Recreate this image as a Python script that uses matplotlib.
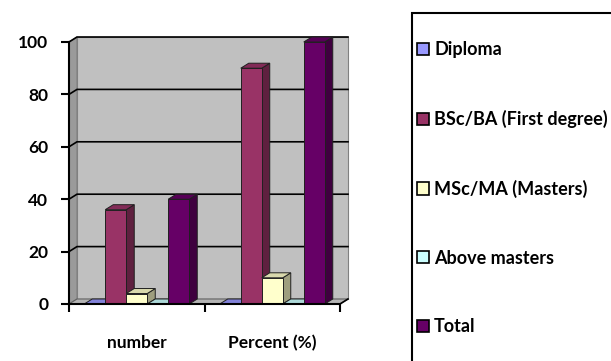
import matplotlib
matplotlib.use("Agg")
import matplotlib.pyplot as plt
from matplotlib.patches import Polygon, Rectangle, Patch
import numpy as np
import matplotlib.colors as mcolors

categories = ["number", "Percent (%)"]
series_names = ["Diploma", "BSc/BA (First degree)", "MSc/MA (Masters)", "Above masters", "Total"]
diploma = [0, 0]
bsc = [36, 90]
msc = [4, 10]
above = [0, 0]
total = [40, 100]
series_values = [diploma, bsc, msc, above, total]
colors = ["#9999FF", "#993366", "#FFFFCC", "#CCFFFF", "#660066"]
yticks = [0, 20, 40, 60, 80, 100]

FONT = "Lato"
FS = 12.5
LFS = 13

W, H = 611, 361
fig = plt.figure(figsize=(W / 100, H / 100), dpi=100)

# axes box in pixels
axL, axR, axB, axT = 69, 350, 304, 42
ax = fig.add_axes([axL / W, (H - axB) / H, (axR - axL) / W, (axB - axT) / H])
ax.set_xlim(0, (axR - axL) / 135.5)
ax.set_ylim(0, 100)
ax.patch.set_alpha(0)

# depth offsets in data units
dx = 8 / 135.5
dy = 5 / 2.62

def shade(c, f):
    r, g, b = mcolors.to_rgb(c)
    return (r * f, g * f, b * f)

ytop = 100 + dy
# side wall
ax.add_patch(Polygon([(0, 0), (dx, dy), (dx, ytop), (0, 100)], closed=True,
                     facecolor="#9a9a9a", edgecolor="#808080", lw=0.8, zorder=0, clip_on=False))
# back wall
ax.add_patch(Polygon([(dx, dy), (2 + dx, dy), (2 + dx, ytop), (dx, ytop)], closed=True,
                     facecolor="#c0c0c0", edgecolor="#808080", lw=0.8, zorder=0, clip_on=False))
# floor
ax.add_patch(Polygon([(0, 0), (2, 0), (2 + dx, dy), (dx, dy)], closed=True,
                     facecolor="#b4b4b4", edgecolor="#606060", lw=0.8, zorder=0.5, clip_on=False))
# gridlines
for yv in yticks[1:]:
    ax.plot([0, dx, 2 + dx], [yv, yv + dy, yv + dy], color="black", lw=1.2, zorder=1,
            clip_on=False, solid_joinstyle="miter")

w = 0.155
for gi in range(len(categories)):
    for si, vals in enumerate(series_values):
        h = vals[gi]
        x0 = gi + 0.5 - 2.5 * w + si * w
        z = 2 + gi * 10 + si
        c = colors[si]
        ec = "#202020"
        # side
        ax.add_patch(Polygon([(x0 + w, 0), (x0 + w + dx, dy), (x0 + w + dx, h + dy), (x0 + w, h)],
                             closed=True, facecolor=shade(c, 0.62), edgecolor=ec, lw=0.7,
                             zorder=z, clip_on=False))
        # top
        ax.add_patch(Polygon([(x0, h), (x0 + dx, h + dy), (x0 + w + dx, h + dy), (x0 + w, h)],
                             closed=True, facecolor=shade(c, 0.85), edgecolor=ec, lw=0.7,
                             zorder=z, clip_on=False))
        # front
        ax.bar([x0], [h], width=w, align="edge", color=c, edgecolor=ec, lw=0.7,
               zorder=z + 0.5, clip_on=False)

# spines / ticks
for s in ["top", "right"]:
    ax.spines[s].set_visible(False)
ax.spines["left"].set_color("black")
ax.spines["left"].set_linewidth(1.5)
ax.spines["left"].set_zorder(50)
ax.spines["bottom"].set_visible(False)
ax.plot([0, 2], [0, 0], color="black", lw=1.5, zorder=60, clip_on=False)
ax.plot([2, 2 + dx], [0, dy], color="black", lw=1.2, zorder=60, clip_on=False)

ax.set_yticks(yticks)
ax.set_yticklabels([str(v) for v in yticks], fontfamily=FONT, fontweight="bold", fontsize=FS)
ax.tick_params(axis="y", direction="out", length=6, width=1.5, pad=9)

ax.set_xticks([0, 1, 2])
ax.set_xticklabels(["", "", ""])
ax.tick_params(axis="x", which="major", direction="out", length=6, width=1.5)
ax.set_xticks([0.5, 1.5], minor=True)
ax.set_xticklabels(categories, minor=True, fontfamily=FONT, fontweight="bold", fontsize=FS)
ax.tick_params(axis="x", which="minor", length=0, pad=22)

# legend
handles = [Patch(facecolor=c, edgecolor="black", lw=1.2) for c in colors]
leg = fig.legend(handles, series_names, loc="upper left",
                 bbox_to_anchor=(417 / W, 1 - 41 / H), frameon=False,
                 prop={"family": FONT, "weight": "bold", "size": LFS},
                 handlelength=0.65, handleheight=0.65, handletextpad=0.3,
                 labelspacing=2.87, borderaxespad=0, borderpad=0)
fig.patches.append(Rectangle((412 / W, -0.2), 1.0, (H - 13) / H + 0.2,
                             transform=fig.transFigure, fill=False, edgecolor="black",
                             lw=1.5, clip_on=False))

fig.savefig("out.png", dpi=100)
